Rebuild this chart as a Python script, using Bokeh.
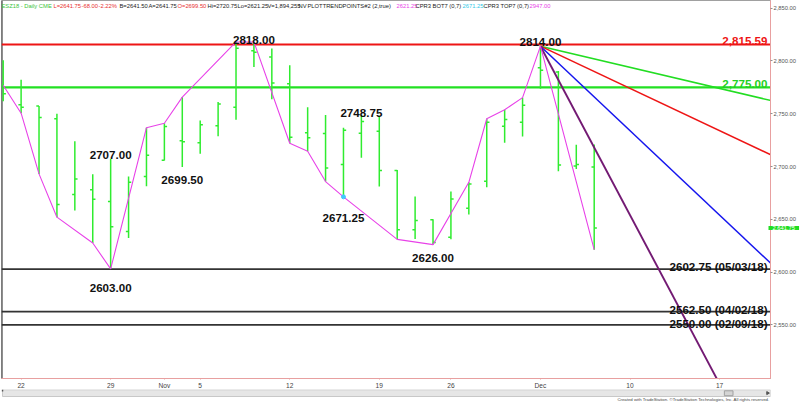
from math import pi
from bokeh.plotting import figure
from bokeh.models import Range1d, FixedTicker, NumeralTickFormatter, Label, ColumnDataSource
from bokeh.layouts import column
from bokeh.embed import file_html
from bokeh.resources import INLINE
from bokeh.core.properties import value

# ---------------- data ----------------
bar_open = [2777.00, 2758.50, 2757.25, 2745.25, 2673.50, 2678.00, 2666.75, 2638.50, 2690.50, 2706.00,
            2724.50, 2722.50, 2738.50, 2756.25, 2809.75, 2803.75, 2778.50, 2732.00, 2731.25, 2702.00,
            2731.50, 2733.50, 2696.25, 2640.00, 2649.50, 2633.00, 2660.50, 2686.00, 2738.25, 2742.00,
            2793.50, 2789.50, 2700.50, 2699.50]
bar_high = [2800.75, 2782.25, 2757.25, 2750.00, 2724.00, 2692.75, 2707.00, 2690.50, 2736.75, 2741.00,
            2765.75, 2743.50, 2761.00, 2818.00, 2818.00, 2811.75, 2796.00, 2756.25, 2748.75, 2736.75,
            2748.75, 2748.00, 2696.75, 2671.50, 2650.00, 2676.25, 2685.00, 2745.25, 2753.75, 2765.25,
            2814.00, 2790.50, 2720.50, 2720.75]
bar_low = [2761.75, 2750.50, 2693.00, 2652.00, 2658.25, 2627.50, 2603.00, 2632.25, 2681.25, 2705.75,
           2699.50, 2712.00, 2728.75, 2744.25, 2794.25, 2763.75, 2722.00, 2714.50, 2685.75, 2671.25,
           2708.25, 2681.00, 2631.00, 2631.25, 2626.00, 2631.00, 2654.50, 2680.25, 2722.50, 2728.50,
           2773.75, 2695.50, 2697.75, 2621.25]
bar_close = [2769.00, 2756.25, 2746.50, 2664.00, 2688.25, 2669.00, 2643.00, 2685.00, 2710.75, 2738.00,
             2723.50, 2739.50, 2759.25, 2812.00, 2808.25, 2779.00, 2727.75, 2727.25, 2698.50, 2734.25,
             2742.75, 2696.25, 2640.00, 2648.75, 2628.00, 2669.25, 2683.50, 2742.00, 2744.50, 2758.00,
             2791.25, 2701.50, 2702.00, 2641.75]

trend_idx = [0, 1, 2, 3, 5, 6, 8, 9, 10, 13, 14, 16, 17, 18, 19, 22, 24, 26, 27, 28, 29, 30, 33]
trend_val = [2777.00, 2750.50, 2693.00, 2652.00, 2627.50, 2603.00, 2736.75, 2741.00, 2765.75, 2818.00,
             2818.00, 2722.00, 2714.50, 2685.75, 2671.25, 2631.00, 2626.00, 2685.00, 2745.25, 2753.75,
             2765.25, 2814.00, 2621.25]

swing_idx = [14, 30, 6, 6, 10, 20, 19, 24]
swing_val = [2818.00, 2814.00, 2707.00, 2603.00, 2699.50, 2748.75, 2671.25, 2626.00]

level_vals = [2815.59, 2775.00, 2602.75, 2562.50, 2550.00]
level_dates = ["", "", "05/03/18", "04/02/18", "02/09/18"]

ray_origin_idx = 30
ray_origin_val = 2814.00
ray_slopes = [-4, -8, -16, -32]

cyan_idx = [19]
cyan_val = [2671.25]

date_tick_idx = [1, 6, 9, 11, 16, 21, 25, 30, 35, 40]
date_tick_labels = ["22", "29", "Nov", "5", "12", "19", "26", "Dec", "10", "17"]
price_ticks = [2550, 2600, 2650, 2700, 2750, 2800, 2850]
last_price = 2641.75

header_texts = ["ESZ18 - Daily  CME", "L=%.2f" % bar_close[-1], "-68.00", "-2.22%", "B=2641.50", "A=2641.75",
                "O=%.2f" % bar_open[-1], "Hi=%.2f" % bar_high[-1], "Lo=%.2f" % bar_low[-1], "V=1,894,255",
                "NV", "PLOTTRENDPOINTS#2 (2,true)", "2621.25", "CPR3 BOT7 (0,7)", "2671.25",
                "CPR3 TOP7 (0,7)", "2947.00"]
copyright_text = "Created with TradeStation. \u00a9TradeStation Technologies, Inc. All rights reserved."

# ---------------- styles / geometry ----------------
BAR0_PX, BAR_STEP = 2.7, 17.909        # pixel of bar 0 and bar spacing
TOP_PRICE, PX_PER_PT = 2857.28, 1.0555  # price at frame top, pixels per point


def px_x(X):
    return (X - BAR0_PX) / BAR_STEP


def px_y(Y):
    return TOP_PRICE - Y / PX_PER_PT


X0, X1 = px_x(1), px_x(770)
Y0, Y1 = px_y(378), px_y(0)
FONT = "Liberation Sans"

GREEN = "#2fec2f"
MAG = "#e842e8"
header_px = [1, 53, 81, 98, 119, 148, 177, 207, 237, 267, 298, 307, 396, 415, 462, 483, 529]
header_colors = ["#3cc43c", "#e83030", "#e83030", "#e83030", "#222222", "#222222", "#e83030", "#222222",
                 "#222222", "#222222", "#222222", "#222222", MAG, "#222222", "#30c8e8", "#222222", MAG]
swing_off_px = [1.5, 3.7, 3.7, -18.7, -12.5, 1.7, -20.7, -12.9]   # + = up
level_colors = ["#ee1515", "#22e022", "#333333", "#333333", "#333333"]
level_text_colors = ["#ee1515", "#22d022", "#111111", "#111111", "#111111"]
level_widths = [1.8, 2.2, 1.6, 1.6, 1.6]
level_off_px = [4.0, 3.5, 2.7, 2.4, 1.6]
ray_colors = ["#22dd22", "#ee1515", "#1515ee", "#731a73"]
ray_widths = [1.5, 1.5, 1.5, 1.9]
TK = 2.7 / BAR_STEP

p = figure(width=800, height=396, x_range=Range1d(X0, X1), y_range=Range1d(Y0, Y1),
           output_backend="svg", toolbar_location=None, y_axis_location="right",
           min_border_left=1, min_border_right=30, min_border_top=0, min_border_bottom=18)
p.xgrid.visible = False
p.ygrid.visible = False
p.background_fill_color = "white"
p.border_fill_color = "white"
p.outline_line_color = "#a0a0a0"

AX = "#e8a0a0"
p.xaxis.ticker = FixedTicker(ticks=date_tick_idx)
p.xaxis.major_label_overrides = {t: l for t, l in zip(date_tick_idx, date_tick_labels)}
p.xaxis.axis_line_color = AX
p.xaxis.major_tick_line_color = AX
p.xaxis.major_tick_out = 1
p.xaxis.major_tick_in = 0
p.xaxis.minor_tick_line_color = None
p.xaxis.major_label_standoff = 2
p.xaxis.major_label_text_font = FONT
p.xaxis.major_label_text_font_size = "6.6px"
p.xaxis.major_label_text_color = "#444444"

p.yaxis.ticker = FixedTicker(ticks=price_ticks)
p.yaxis.formatter = NumeralTickFormatter(format="0,0.00")
p.yaxis.axis_line_color = AX
p.yaxis.major_tick_line_color = "#909090"
p.yaxis.major_tick_out = 2
p.yaxis.major_tick_in = 0
p.yaxis.minor_tick_line_color = None
p.yaxis.major_label_standoff = 1
p.yaxis.major_label_text_font = FONT
p.yaxis.major_label_text_font_size = "5.8px"
p.yaxis.major_label_text_color = "#555555"

# left border
p.segment(x0=[X0 + 0.02], y0=[Y0], x1=[X0 + 0.02], y1=[Y1], line_color="#555555", line_width=1.6)

# horizontal levels
n = len(level_vals)
p.segment(x0=[X0] * n, x1=[X1] * n, y0=level_vals, y1=level_vals,
          line_color=level_colors, line_width=level_widths)

# OHLC bars
idx = list(range(len(bar_open)))
src = ColumnDataSource(dict(i=idx, o=bar_open, h=bar_high, l=bar_low, c=bar_close,
                            il=[i - TK for i in idx], ir=[i + TK for i in idx]))
p.segment(x0="i", y0="h", x1="i", y1="l", source=src, line_color=GREEN, line_width=1.5)
p.segment(x0="il", y0="o", x1="i", y1="o", source=src, line_color=GREEN, line_width=1.5)
p.segment(x0="i", y0="c", x1="ir", y1="c", source=src, line_color=GREEN, line_width=1.5)

# fan rays
xe = X1 + 1.0
p.segment(x0=[ray_origin_idx] * len(ray_slopes), y0=[ray_origin_val] * len(ray_slopes),
          x1=[xe] * len(ray_slopes), y1=[ray_origin_val + s * (xe - ray_origin_idx) for s in ray_slopes],
          line_color=ray_colors, line_width=ray_widths)

# trend points
p.line(trend_idx, trend_val, line_color=MAG, line_width=1.1)
p.scatter(cyan_idx, cyan_val, size=4, color="#40c8ff")

# swing labels
p.text(x=swing_idx, y=[v + o / PX_PER_PT for v, o in zip(swing_val, swing_off_px)],
       text=["%.2f" % v for v in swing_val], text_align="center", text_baseline="alphabetic",
       text_font=value(FONT), text_font_style="bold", text_font_size="11.6px", text_color="#111111")

# level labels
level_texts = [("{:,.2f}".format(v) if d == "" else "%.2f (%s)" % (v, d)) for v, d in zip(level_vals, level_dates)]
p.text(x=[px_x(767)] * n, y=[v + o / PX_PER_PT for v, o in zip(level_vals, level_off_px)],
       text=level_texts, text_align="right", text_baseline="alphabetic",
       text_font=value(FONT), text_font_style="bold", text_font_size="11.6px", text_color=level_text_colors)

# header
p.text(x=[px_x(X) for X in header_px], y=[px_y(5)] * len(header_px), text=header_texts,
       text_align="left", text_baseline="middle", text_font=value(FONT), text_font_size="5.8px",
       text_color=header_colors)

# last price marker on the axis (lives in a side panel, so it is not clipped to the frame)
p.add_layout(Label(x=X1, y=last_price, x_offset=-2, text="{:,.2f}".format(last_price),
                   text_font=FONT, text_font_size="5.8px", text_color="white", text_baseline="middle",
                   text_align="left", background_fill_color="#22dd22", padding=(4, 0)), "below")

# bottom strip: scrollbar + copyright (overlaps the empty bottom of the main figure)
s = figure(width=800, height=13, x_range=Range1d(0, 800), y_range=Range1d(402, 389),
           output_backend="svg", toolbar_location=None, x_axis_location=None, y_axis_location=None,
           min_border=0)
s.margin = (-7, 0, 0, 0)
s.xgrid.visible = False
s.ygrid.visible = False
s.outline_line_color = None
s.quad(left=[1], right=[800], top=[389.3], bottom=[396], fill_color="#e6e6e6", line_color="#c8c8c8")
s.quad(left=[752], right=[761], top=[390.3], bottom=[395.2], fill_color="#d4d4d4", line_color="#a0a0a0")
s.segment(x0=[1], y0=[389], x1=[1], y1=[391], line_color="#555555", line_width=1.6)
s.scatter([797], [392.6], marker="triangle", angle=-pi / 2, size=3, color="#555555")
s.text(x=[799], y=[399], text=[copyright_text], text_align="right", text_baseline="middle",
       text_font=value(FONT), text_font_size="4.3px", text_color="#444444")

layout = column(p, s, spacing=0)
open("out.html", "w").write(file_html(layout, INLINE))
